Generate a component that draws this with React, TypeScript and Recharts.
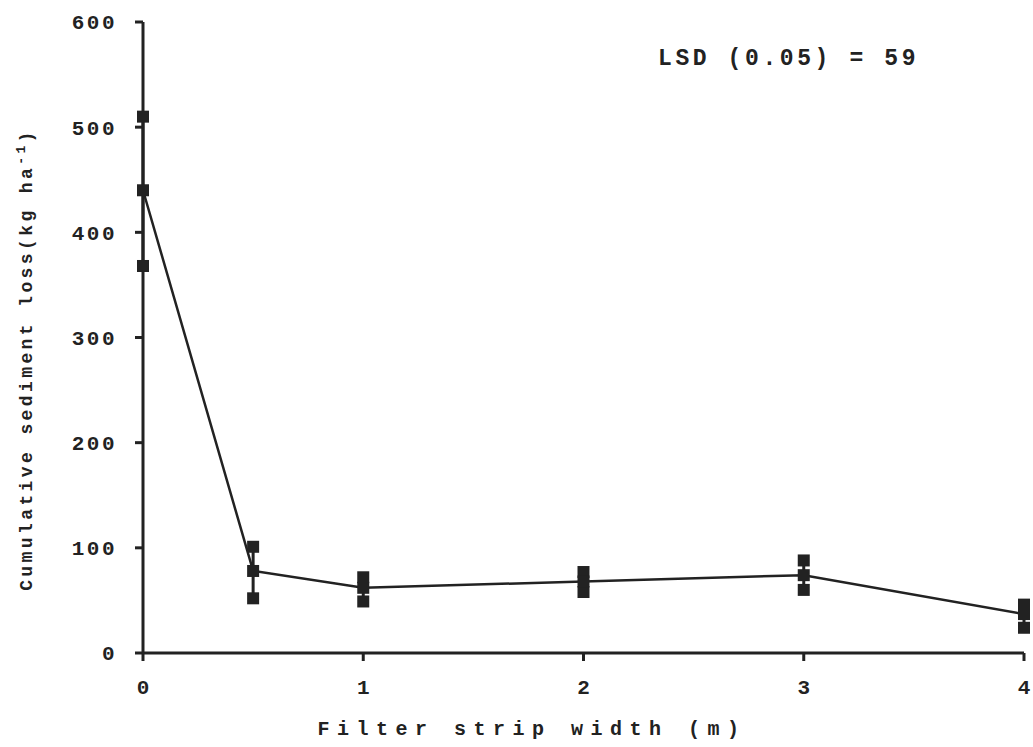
import React from "react";
import {
  ComposedChart,
  Line,
  XAxis,
  YAxis,
  ErrorBar,
  Label,
} from "recharts";

const widths = [0, 0.5, 1, 2, 3, 4];
const meanLoss = [440, 78, 62, 68, 74, 37];
const upperLoss = [510, 101, 72, 77, 88, 46];
const lowerLoss = [368, 52, 49, 58, 60, 24];

const xTicks = [0, 1, 2, 3, 4];
const yTicks = [0, 100, 200, 300, 400, 500, 600];

const INK = "#222";
const FONT = "'Liberation Mono', 'DejaVu Sans Mono', monospace";

const data = widths.map((w, i) => ({
  width: w,
  mean: meanLoss[i],
  upper: upperLoss[i],
  lower: lowerLoss[i],
  err: [meanLoss[i] - lowerLoss[i], upperLoss[i] - meanLoss[i]],
}));

function SquareDot(props: any) {
  const { cx, cy } = props;
  if (cx == null || cy == null) return null;
  return <rect x={cx - 6} y={cy - 6} width={12} height={12} fill={INK} />;
}

function YTitle(props: any) {
  const vb = props.viewBox || {};
  const x = 32;
  const y = vb.y + vb.height / 2 + 22;
  return (
    <text
      x={x}
      y={y}
      transform={`rotate(-90 ${x} ${y})`}
      textAnchor="middle"
      fontFamily={FONT}
      fontSize={18}
      fontWeight="bold"
      letterSpacing={3.4}
      fill={INK}
    >
      Cumulative sediment loss(kg ha
      <tspan dy={-7} fontSize={13}>-1</tspan>
      <tspan dy={7}>)</tspan>
    </text>
  );
}

function XTitle() {
  return (
    <text
      x={532}
      y={735}
      textAnchor="middle"
      fontFamily={FONT}
      fontSize={20}
      fontWeight="bold"
      letterSpacing={7.5}
      fill={INK}
    >
      Filter strip width (m)
    </text>
  );
}

export default function App() {
  return (
    <div style={{ position: "absolute", left: 0, top: 0, width: 1033, height: 747, background: "#fff" }}>
      <ComposedChart
        width={1033}
        height={747}
        data={data}
        margin={{ top: 22, right: 9, bottom: 34, left: 0 }}
      >
        <XAxis
          dataKey="width"
          type="number"
          domain={[0, 4]}
          ticks={xTicks}
          height={60}
          stroke={INK}
          strokeWidth={3}
          tickSize={8}
          tickMargin={18}
          tick={{ fill: INK, fontFamily: FONT, fontSize: 21, fontWeight: "bold" }}
        >
          <Label content={<XTitle />} />
        </XAxis>
        <YAxis
          type="number"
          domain={[0, 600]}
          ticks={yTicks}
          width={143}
          stroke={INK}
          strokeWidth={3}
          tickSize={8}
          tickMargin={18}
          tick={{ fill: INK, fontFamily: FONT, fontSize: 21, fontWeight: "bold", letterSpacing: 2.5 }}
        >
          <Label content={<YTitle />} />
        </YAxis>
        <Line
          dataKey="upper"
          stroke="none"
          dot={<SquareDot />}
          activeDot={false}
          isAnimationActive={false}
        />
        <Line
          dataKey="lower"
          stroke="none"
          dot={<SquareDot />}
          activeDot={false}
          isAnimationActive={false}
        />
        <Line
          dataKey="mean"
          stroke={INK}
          strokeWidth={2.5}
          dot={<SquareDot />}
          activeDot={false}
          isAnimationActive={false}
        >
          <ErrorBar dataKey="err" width={0} stroke={INK} strokeWidth={3} direction="y" />
        </Line>
      </ComposedChart>
      <div
        style={{
          position: "absolute",
          left: 658,
          top: 46,
          fontFamily: FONT,
          fontSize: 23,
          fontWeight: "bold",
          letterSpacing: 3.6,
          color: INK,
          whiteSpace: "nowrap",
        }}
      >
        LSD (0.05) = 59
      </div>
    </div>
  );
}
